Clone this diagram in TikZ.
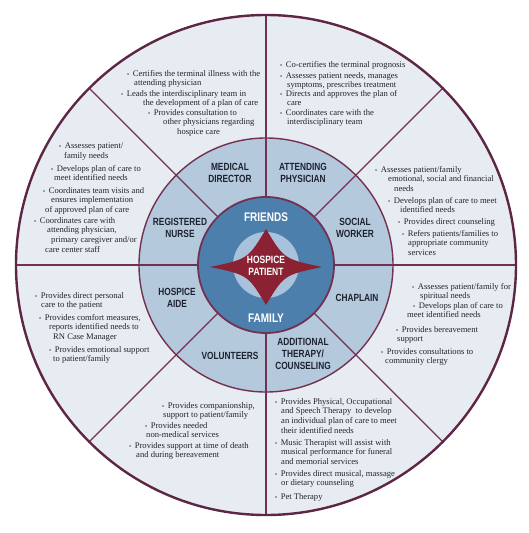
\documentclass[tikz,border=0pt]{standalone}
\usepackage{fontspec}
\setmainfont{Liberation Serif}
\newfontfamily\labelfont[FakeStretch=0.8]{Liberation Sans}
\usepackage{tikz}
\usetikzlibrary{positioning}
\definecolor{OuterFill}{HTML}{E6ECF2}
\definecolor{RingFill}{HTML}{B5C9DC}
\definecolor{InnerBlue}{HTML}{4D7FAC}
\definecolor{CoreBlue}{HTML}{A7C2DA}
\definecolor{StarRed}{HTML}{8A2233}
\definecolor{LineMaroon}{HTML}{733152}
\definecolor{RimMaroon}{HTML}{5E2644}
\definecolor{TextDark}{HTML}{24242E}
\definecolor{LabelDark}{HTML}{1E2230}
\newcommand{\bl}{\scalebox{0.7}{\textbullet}\hspace{3.5pt}}
\newcommand{\ind}[1]{\\\hspace*{#1pt}}

\begin{document}
\begin{tikzpicture}[
  x=1pt, y=-1pt,
  % outer-sector text
  txt/.style={font=\fontsize{8.6}{9.7}\selectfont, text=TextDark,
              align=left, anchor=north west, inner sep=0pt},
  % ring labels
  lbl/.style={font=\labelfont\bfseries\fontsize{10.4}{11.8}\selectfont,
              text=LabelDark, align=center, inner sep=0pt},
  % white labels on the blue disc
  hub/.style={font=\labelfont\bfseries\fontsize{12.5}{13}\selectfont,
              text=white, align=center, inner sep=0pt},
  spoke/.style={draw=LineMaroon, line width=1.2pt},
]
\useasboundingbox (0,0) rectangle (528,533);
\coordinate (O) at (266,265);

%% ── Wheel ────────────────────────────────────────────────────────────────
\fill[OuterFill] (O) circle (250);
\foreach \a in {0,45,...,315}
  \draw[spoke] (O) -- ++(\a:250);
\draw[RimMaroon, line width=2.4pt] (O) circle (250);
\draw[fill=RingFill, draw=LineMaroon, line width=1.4pt] (O) circle (127);
\foreach \a in {0,45,...,315}
  \draw[spoke] (O) ++(\a:68) -- ++(\a:59);
\draw[fill=InnerBlue, draw=LineMaroon, line width=1.8pt] (O) circle (68);
\fill[CoreBlue] (O) circle (33);

%% ── Star ─────────────────────────────────────────────────────────────────
\fill[StarRed] (210,267) .. controls (248,259) .. (266,229)
  .. controls (284,259) .. (322,267) .. controls (284,275) .. (266,305)
  .. controls (248,275) .. (210,267) -- cycle;

%% ── Hub labels ───────────────────────────────────────────────────────────
\node[hub] (FR) at (266,217) {FRIENDS};
\node[hub] (FA) at (266,318) {FAMILY};
\node[hub, font=\labelfont\bfseries\fontsize{10.6}{11.8}\selectfont]
      (HP) at (266,266) {HOSPICE\\PATIENT};

%% ── Ring labels ──────────────────────────────────────────────────────────
\node[lbl] (MD)  at (230,173) {MEDICAL\\DIRECTOR};
\node[lbl] (AP)  at (303,173) {ATTENDING\\PHYSICIAN};
\node[lbl] (RN)  at (180,228) {REGISTERED\\NURSE};
\node[lbl] (SW)  at (355,228) {SOCIAL\\WORKER};
\node[lbl] (HA)  at (177,298) {HOSPICE\\AIDE};
\node[lbl] (CH)  at (357,298) {CHAPLAIN};
\node[lbl] (VO)  at (230,356) {VOLUNTEERS};
\node[lbl] (AT)  at (303,354) {ADDITIONAL\\THERAPY/\\COUNSELING};

%% ── Medical director ─────────────────────────────────────────────────────
\node[txt] (md1) at (127,70)  {\bl Certifies the terminal illness with the\ind{7}attending physician};
\node[txt] (md2) at (121,90)  {\bl Leads the interdisciplinary team in\ind{22}the development of a plan of care};
\node[txt] (md3) at (148,109) {\bl Provides consultation to\ind{15}other physicians regarding\ind{29}hospice care};

%% ── Attending physician ──────────────────────────────────────────────────
\node[txt] (ap1) at (280,61)  {\bl Co-certifies the terminal prognosis};
\node[txt] (ap2) at (280,72)  {\bl Assesses patient needs, manages\ind{7}symptoms, prescribes treatment};
\node[txt] (ap3) at (280,90)  {\bl Directs and approves the plan of\ind{7}care};
\node[txt] (ap4) at (280,109) {\bl Coordinates care with the\ind{7}interdisciplinary team};

%% ── Registered nurse ─────────────────────────────────────────────────────
\node[txt] (rn1) at (59,143) {\bl Assesses patient/\ind{5}family needs};
\node[txt] (rn2) at (51,165) {\bl Develops plan of care to\ind{3}meet identified needs};
\node[txt] (rn3) at (43,187) {\bl Coordinates team visits and\ind{8}ensures implementation\ind{2}of approved plan of care};
\node[txt] (rn4) at (34,217) {\bl Coordinates care with\ind{13}attending physician,\ind{17}primary caregiver and/or\ind{11}care center staff};

%% ── Social worker ────────────────────────────────────────────────────────
\node[txt] (sw1) at (375,166) {\bl Assesses patient/family\ind{13}emotional, social and financial\ind{19}needs};
\node[txt] (sw2) at (388,197) {\bl Develops plan of care to meet\ind{12}identified needs};
\node[txt] (sw3) at (398,218) {\bl Provides direct counseling};
\node[txt] (sw4) at (402,230) {\bl Refers patients/families to\ind{6}appropriate community\ind{6}services};

%% ── Hospice aide ─────────────────────────────────────────────────────────
\node[txt] (ha1) at (35,292) {\bl Provides direct personal\ind{6}care to the patient};
\node[txt] (ha2) at (39,314) {\bl Provides comfort measures,\ind{10}reports identified needs to\ind{14}RN Case Manager};
\node[txt] (ha3) at (49,346) {\bl Provides emotional support\ind{4}to patient/family};

%% ── Chaplain ─────────────────────────────────────────────────────────────
\node[txt] (ch1) at (412,283) {\bl Assesses patient/family for\ind{8}spiritual needs};
\node[txt] (ch2) at (413,302) {\bl Develops plan of care to\ind{-6}meet identified needs};
\node[txt] (ch3) at (396,326) {\bl Provides bereavement\ind{1}support};
\node[txt] (ch4) at (381,348) {\bl Provides consultations to\ind{4}community clergy};

%% ── Volunteers ───────────────────────────────────────────────────────────
\node[txt] (vo1) at (162,402) {\bl Provides companionship,\ind{1}support to patient/family};
\node[txt] (vo2) at (145,422) {\bl Provides needed\ind{1}non-medical services};
\node[txt] (vo3) at (129,442) {\bl Provides support at time of death\ind{7}and during bereavement};

%% ── Additional therapy / counseling ──────────────────────────────────────
\node[txt] (at1) at (275,398) {\bl Provides Physical, Occupational\ind{6}and Speech Therapy\ \ to develop\ind{6}an individual plan of care to meet\ind{6}their identified needs};
\node[txt] (at2) at (275,439) {\bl Music Therapist will assist with\ind{6}musical performance for funeral\ind{6}and memorial services};
\node[txt] (at3) at (275,470) {\bl Provides direct musical, massage\ind{6}or dietary counseling};
\node[txt] (at4) at (275,493) {\bl Pet Therapy};

\end{tikzpicture}
\end{document}
